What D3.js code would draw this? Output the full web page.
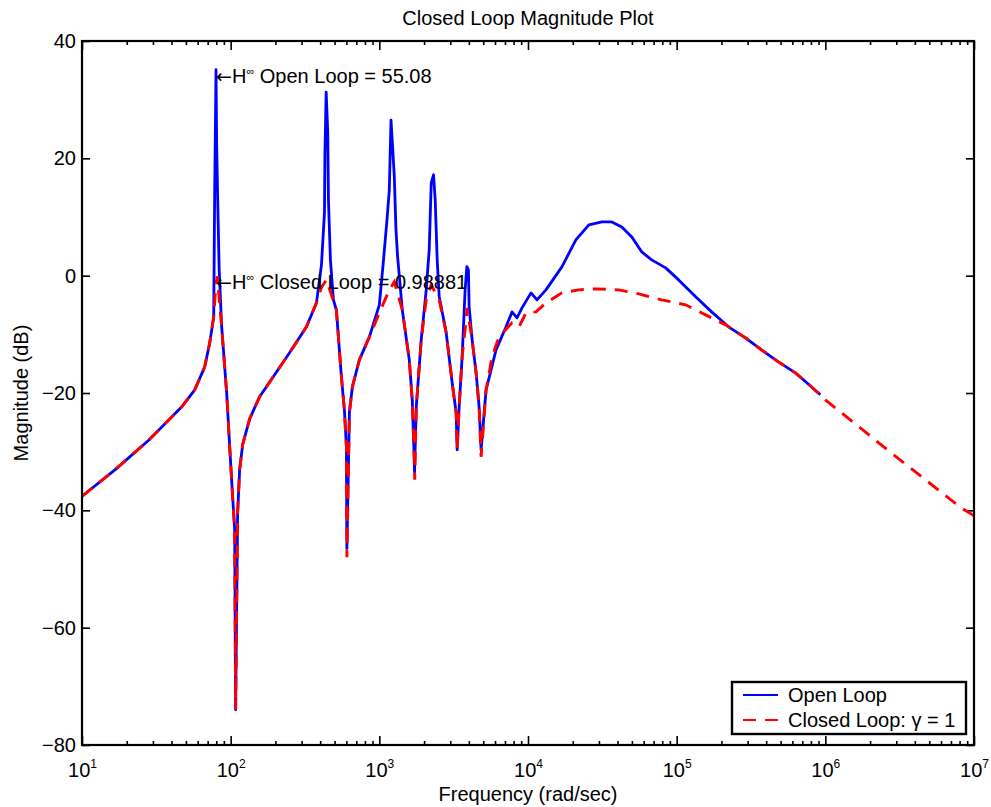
<!DOCTYPE html>
<html>
<head>
<meta charset="utf-8">
<script src="https://cdn.jsdelivr.net/npm/d3@7"></script>
<style>
  html, body { margin: 0; padding: 0; background: #fff; }
  svg { display: block; }
  text { font-family: "Liberation Sans", Arial, Helvetica, sans-serif; fill: #000; }
</style>
</head>
<body>
<div id="chart"></div>
<script>
// ---------- data ----------
const titleText = "Closed Loop Magnitude Plot";
const xLabelText = "Frequency (rad/sec)";
const yLabelText = "Magnitude (dB)";
const seriesNames = ["Open Loop", "Closed Loop: \u03B3 = 1"];

const xMajorTicks = [1e1, 1e2, 1e3, 1e4, 1e5, 1e6, 1e7];
const xMinorMultipliers = [2, 3, 4, 5, 6, 7, 8, 9];
const yTicks = [-80, -60, -40, -20, 0, 20, 40];

const freqOpen = [10, 16.65, 28.2, 46.9, 57.3, 66.9, 72.3, 76.9, 78.1, 79.7, 80.5, 81.8, 83.7, 87.0, 94.0, 98.5,
  103.1, 106.4, 108.0, 111.4, 114.9, 120.4, 134.2, 156.5, 191.4, 248.9, 323.6, 377.6, 408, 427.5, 430.5,
  438.9, 449.7, 454.7, 468.8, 491, 514, 555.9, 582, 600.5, 605, 629, 658.8, 734, 857, 1000, 1064, 1126,
  1167, 1198, 1228, 1261, 1294, 1327, 1427, 1590, 1665, 1718, 1725, 1772, 1913, 2067, 2165, 2234, 2314,
  2376, 2450, 2527, 2817, 3090, 3287, 3338, 3443, 3606, 3776, 3880, 3975, 4018, 4210, 4477, 4690, 4837,
  5224, 6095, 7113, 7809, 8433, 9114, 10476, 11494, 13207, 16905, 20990, 25670, 31380, 36630, 42760,
  49890, 58230, 67930, 84330, 103100, 134200, 171800, 223300, 290400, 372000, 483600, 629000, 805400, 924700];
const magOpen = [-37.6, -33.1, -28.0, -22.35, -19.46, -15.54, -11.45, -7.02, 14.6, 35.1, 22.3, 12.9, 1.0, -8.72, -19.97, -29.17,
  -37.68, -43.3, -74.0, -40.4, -33.1, -28.8, -24.4, -20.65, -17.4, -13.15, -8.72, -4.63, 1.84, 10.7, 20.6,
  31.3, 24.5, 12.9, 2.7, -4.12, -5.83, -17.24, -22.86, -29.17, -46.5, -23.37, -18.94, -14.35, -10.43, -5.0, 2.35, 9.5,
  14.6, 26.5, 22.0, 16.9, 7.8, 3.25, -5.83, -14.35, -21.16, -31.38, -33.5, -22.35, -10.94, -2.42, 4.4, 15.8, 17.2,
  12.9, 2.7, -3.5, -9.74, -18.26, -23.37, -29.68, -22.35, -13.83, -2.4, 1.55, 0.99, -5.3, -10.94, -16.56, -22.35, -29.7,
  -19.46, -12.64, -8.72, -6.17, -7.19, -5.49, -2.93, -4.12, -2.42, 1.5, 6.1, 8.65, 9.16, 9.16, 8.31,
  6.61, 4.05, 2.69, 1.33, -0.72, -3.61, -6.17, -8.72, -10.6, -12.64, -14.69, -16.56, -18.94, -20.3];

const freqClosed = [10, 16.65, 28.2, 46.9, 57.3, 66.9, 72.3, 76.9, 79.3, 81.2, 87.0, 94.0, 98.5, 103.1, 106.4, 108.0,
  111.4, 114.9, 120.4, 134.2, 156.5, 191.4, 248.9, 323.6, 377.6, 408, 441, 514, 555.9, 582, 600.5, 605, 629,
  658.8, 734, 857, 1000, 1167, 1261, 1427, 1590, 1665, 1718, 1731, 1772, 1913, 2067, 2234, 2527, 2817, 3090,
  3287, 3338, 3443, 3606, 3837, 3896, 4210, 4477, 4690, 4837, 5224, 5733, 6383, 7809, 8701, 9697, 11318,
  13207, 16905, 21979, 28576, 40810, 55590, 79300, 114900, 156500, 213300, 290400, 372000, 483600, 629000,
  805400, 1000000, 2770000, 8180000, 10000000];
const magClosed = [-37.6, -33.1, -28.0, -22.35, -19.46, -15.54, -11.45, -7.02, -1.9, -0.1, -8.72, -19.97, -29.17, -37.68, -43.3, -74.0,
  -40.4, -33.1, -28.8, -24.4, -20.65, -17.4, -13.15, -8.72, -4.63, -2.0, -0.7, -5.83, -17.24, -22.86, -29.17, -48.0, -23.37,
  -18.94, -14.35, -10.43, -6.34, -2.42, -1.06, -5.83, -14.35, -21.16, -31.38, -34.8, -22.35, -10.94, -4.12, -1.57, -4.12, -9.74, -18.26,
  -23.37, -29.68, -22.35, -13.83, -7.53, -5.49, -10.94, -16.56, -22.35, -30.87, -19.46, -13.83, -10.43, -8.04, -8.72, -6.34, -6.17,
  -4.63, -2.93, -2.42, -2.25, -2.42, -3.1, -4.12, -4.97, -6.68, -8.38, -10.6, -12.64, -14.69, -16.56,
  -18.94, -21.16, -30.19, -39.56, -40.9];

// annotations
const annotOpen = { f: 79.7, db: 34.0, name: " Open Loop = ", value: "55.08" };
const annotClosed = { f: 79.7, db: -1.0, name: " Closed Loop = ", value: "0.98881" };

// ---------- layout ----------
const W = 991, H = 807;
const m = { left: 82, right: 974, top: 41, bottom: 745 };
const FS = 20;

const svg = d3.select("#chart").append("svg").attr("width", W).attr("height", H);

const x = d3.scaleLog().domain([1e1, 1e7]).range([m.left, m.right]);
const y = d3.scaleLinear().domain([-80, 40]).range([m.bottom, m.top]);

const xMinor = [];
xMajorTicks.slice(0, -1).forEach(d => xMinorMultipliers.forEach(k => xMinor.push(d * k)));

svg.append("defs").append("clipPath").attr("id", "clip")
  .append("rect").attr("x", m.left).attr("y", m.top)
  .attr("width", m.right - m.left).attr("height", m.bottom - m.top);

// ---------- axes ----------
function styleAxis(g) {
  g.select(".domain").remove();
  g.selectAll(".tick line").attr("stroke", "#000").attr("stroke-width", 1.6);
}
const gxB = svg.append("g").attr("transform", `translate(0,${m.bottom})`)
  .call(d3.axisBottom(x).tickValues(xMajorTicks).tickSize(-9).tickPadding(18).tickFormat(() => ""))
  .call(styleAxis);
gxB.selectAll(".tick text").each(function(d) {
  const t = d3.select(this).attr("font-size", FS).attr("font-family", null).attr("fill", "#000");
  t.append("tspan").text("10");
  t.append("tspan").attr("dy", -9).attr("font-size", 12).text(Math.round(Math.log10(d)));
});
svg.append("g").attr("transform", `translate(0,${m.bottom})`)
  .call(d3.axisBottom(x).tickValues(xMinor).tickSize(-4).tickFormat(() => ""))
  .call(styleAxis);
svg.append("g").attr("transform", `translate(0,${m.top})`)
  .call(d3.axisTop(x).tickValues(xMajorTicks).tickSize(-9).tickFormat(() => ""))
  .call(styleAxis);
svg.append("g").attr("transform", `translate(0,${m.top})`)
  .call(d3.axisTop(x).tickValues(xMinor).tickSize(-4).tickFormat(() => ""))
  .call(styleAxis);
const gyL = svg.append("g").attr("transform", `translate(${m.left},0)`)
  .call(d3.axisLeft(y).tickValues(yTicks).tickSize(-8).tickPadding(6)
    .tickFormat(d => (d < 0 ? "\u2212" + Math.abs(d) : String(d))))
  .call(styleAxis);
gyL.selectAll(".tick text").attr("font-size", FS).attr("font-family", null).attr("fill", "#000");
svg.append("g").attr("transform", `translate(${m.right},0)`)
  .call(d3.axisRight(y).tickValues(yTicks).tickSize(-8).tickFormat(() => ""))
  .call(styleAxis);

// ---------- lines ----------
const line = d3.line().x(d => x(d[0])).y(d => y(d[1]));
const openData = freqOpen.map((f, i) => [f, magOpen[i]]);
const closedData = freqClosed.map((f, i) => [f, magClosed[i]]);

const plot = svg.append("g").attr("clip-path", "url(#clip)");
plot.append("path").datum(openData).attr("d", line)
  .attr("fill", "none").attr("stroke", "#0000ff").attr("stroke-width", 2.8)
  .attr("stroke-linejoin", "round");
plot.append("path").datum(closedData).attr("d", line)
  .attr("fill", "none").attr("stroke", "#ff0000").attr("stroke-width", 2.9)
  .attr("stroke-dasharray", "13,9");

svg.append("rect").attr("x", m.left).attr("y", m.top)
  .attr("width", m.right - m.left).attr("height", m.bottom - m.top)
  .attr("fill", "none").attr("stroke", "#000").attr("stroke-width", 2.2);

// ---------- annotations ----------
function annot(a) {
  const t = svg.append("text").attr("x", x(a.f)).attr("y", y(a.db)).attr("dy", "0.35em")
    .attr("font-size", FS).attr("fill", "#222");
  t.append("tspan").attr("font-family", "DejaVu Sans").attr("font-size", 19).text("\u2190");
  t.append("tspan").text("H");
  t.append("tspan").attr("dy", -8).attr("font-size", 11).text("\u221E");
  t.append("tspan").attr("dy", 8).text(a.name + a.value);
}
annot(annotOpen);
annot(annotClosed);

// ---------- titles ----------
svg.append("text").attr("x", (m.left + m.right) / 2).attr("y", 25)
  .attr("text-anchor", "middle").attr("font-size", FS).text(titleText);
svg.append("text").attr("x", (m.left + m.right) / 2).attr("y", 801)
  .attr("text-anchor", "middle").attr("font-size", FS).text(xLabelText);
svg.append("text").attr("transform", `translate(28,${(m.top + m.bottom) / 2}) rotate(-90)`)
  .attr("text-anchor", "middle").attr("font-size", FS).text(yLabelText);

// ---------- legend ----------
const lg = svg.append("g");
lg.append("rect").attr("x", 732).attr("y", 682).attr("width", 234).attr("height", 52)
  .attr("fill", "#fff").attr("stroke", "#000").attr("stroke-width", 2.4);
const legendColors = ["#0000ff", "#ff0000"];
const legendDash = [null, "13,9"];
seriesNames.forEach((name, i) => {
  const yy = 695 + i * 25;
  lg.append("line").attr("x1", 743).attr("x2", 778).attr("y1", yy).attr("y2", yy)
    .attr("stroke", legendColors[i]).attr("stroke-width", 2.2).attr("stroke-dasharray", legendDash[i]);
  lg.append("text").attr("x", 788).attr("y", yy).attr("dy", "0.35em").attr("font-size", FS).text(name);
});
</script>
</body>
</html>
